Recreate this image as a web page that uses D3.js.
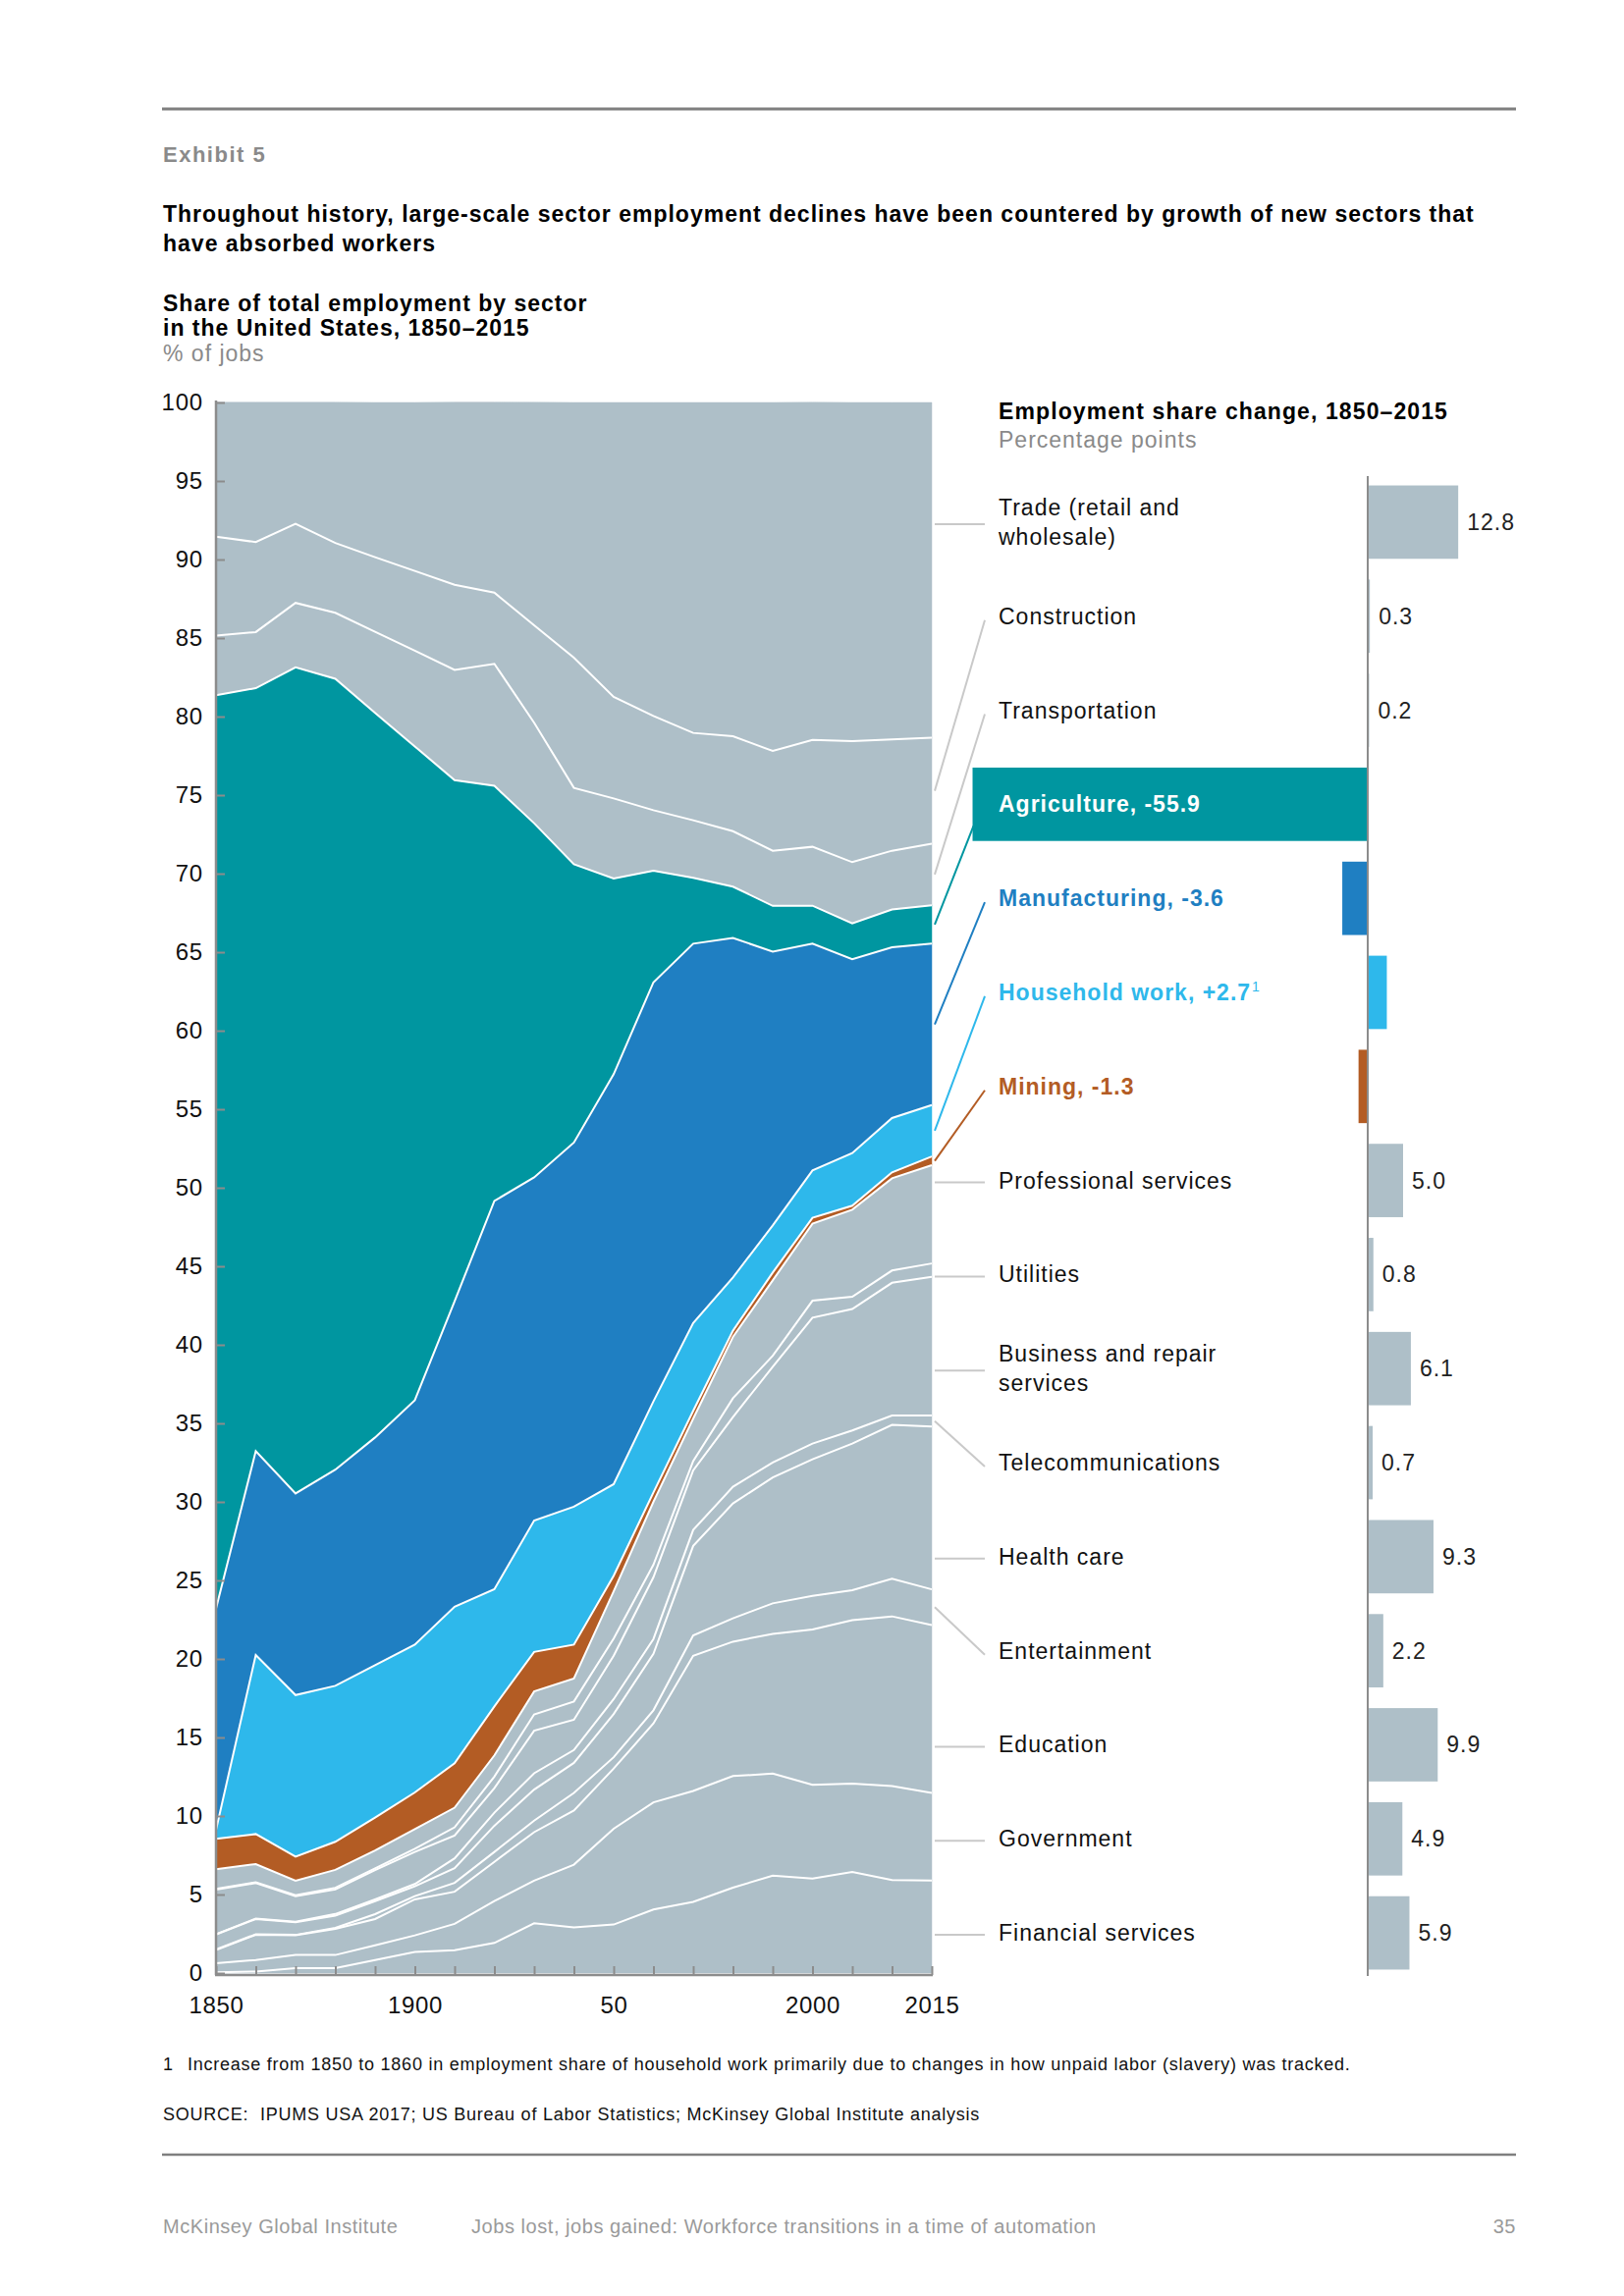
<!DOCTYPE html>
<html><head><meta charset="utf-8">
<script src="https://cdn.jsdelivr.net/npm/d3@7"></script>
<style>
body{margin:0;background:#fff;}
svg{display:block;font-family:"Liberation Sans",Arial,Helvetica,sans-serif;}
</style></head><body>
<svg id="chart" width="1654" height="2339"></svg>
<script>
// ---------- DATA ----------
const years = [1850,1860,1870,1880,1890,1900,1910,1920,1930,1940,1950,1960,1970,1980,1990,2000,2005,2010,2015];
const yearTickLabels = {1850:"1850",1900:"1900",1950:"50",2000:"2000",2015:"2015"};
const yTicks = [0,5,10,15,20,25,30,35,40,45,50,55,60,65,70,75,80,85,90,95,100];

// share of total employment (% of jobs), bottom of stack first
const financial     = [0.05,0.10,0.31,0.31,0.83,1.35,1.46,1.92,3.17,2.90,3.09,4.05,4.53,5.44,6.20,6.02,6.44,5.92,5.89];
const government    = [0.58,0.73,0.84,0.84,0.94,1.05,1.67,2.66,2.71,4.00,6.10,6.82,7.06,7.10,6.50,5.97,5.62,5.98,5.58];
const education     = [0.83,1.61,1.25,1.66,1.67,2.29,2.05,2.50,3.09,3.45,3.83,5.02,8.61,8.56,8.90,9.89,10.41,10.81,10.69];
const entertainment = [0.05,0.03,0.03,0.07,0.31,0.21,0.56,0.63,0.73,1.12,0.72,0.84,1.30,1.49,1.94,2.13,1.91,2.39,2.27];
const healthCare    = [0.94,0.97,0.80,0.78,0.83,0.62,0.94,1.67,1.98,1.91,2.75,3.59,5.70,7.31,8.02,8.70,9.33,9.80,10.36];
const telecom       = [0.03,0.03,0.03,0.10,0.11,0.15,0.62,0.83,1.04,0.82,0.95,0.95,1.01,1.06,0.95,1.00,0.84,0.60,0.71];
const business      = [2.83,2.26,1.64,1.56,1.87,2.04,1.46,1.57,2.71,1.93,2.76,3.93,3.79,4.44,6.09,8.02,7.73,8.45,8.83];
const utilities     = [0.05,0.05,0.05,0.11,0.11,0.21,0.52,0.73,1.04,1.16,1.10,0.80,0.60,1.20,0.70,1.08,0.78,0.78,0.85];
const professional  = [1.25,1.16,0.93,1.14,1.14,1.25,1.25,1.35,1.46,1.47,3.00,4.00,2.70,3.90,4.80,4.90,5.54,5.87,6.26];
const mining        = [1.94,1.91,1.53,1.79,2.09,2.33,2.83,3.12,2.52,2.15,1.00,0.60,0.50,0.40,0.50,0.38,0.26,0.38,0.55];
const household     = [0.56,11.40,10.29,9.93,9.70,9.41,9.96,7.46,8.36,8.78,5.83,5.80,5.58,3.39,3.00,3.01,3.35,3.46,3.28];
const manufacturing = [14.09,12.98,12.84,13.76,14.50,15.56,19.46,24.72,21.85,23.19,26.10,26.68,24.16,21.61,17.44,14.45,12.34,10.87,10.27];
const agriculture   = [58.16,48.58,52.60,50.36,46.14,41.63,33.17,26.43,22.55,17.72,12.46,7.10,4.19,3.27,2.91,2.41,2.28,2.41,2.45];
const transportation= [3.80,3.57,4.10,4.20,5.16,6.09,7.02,7.77,6.40,4.86,5.10,3.86,3.67,3.53,3.51,3.75,3.90,3.74,3.91];
const construction  = [6.30,5.73,5.04,4.44,4.75,5.08,5.42,4.53,6.20,8.29,6.46,6.00,5.56,6.05,6.35,6.80,7.71,7.08,6.75];
const trade         = [8.55,8.90,7.73,8.96,9.85,10.73,11.63,12.13,14.20,16.25,18.75,19.96,21.04,21.25,22.19,21.50,21.56,21.46,21.35];

const stackKeys = ["financial","government","education","entertainment","healthCare","telecom","business","utilities","professional","mining","household","manufacturing","agriculture","transportation","construction","trade"];
const seriesByKey = {financial,government,education,entertainment,healthCare,telecom,business,utilities,professional,mining,household,manufacturing,agriculture,transportation,construction,trade};

// right panel, top to bottom
const panelKeys   = ["trade","construction","transportation","agriculture","manufacturing","household","mining","professional","utilities","business","telecom","healthCare","entertainment","education","government","financial"];
const panelLabels = [["Trade (retail and","wholesale)"],["Construction"],["Transportation"],["Agriculture, -55.9"],["Manufacturing, -3.6"],["Household work, +2.7"],["Mining, -1.3"],["Professional services"],["Utilities"],["Business and repair","services"],["Telecommunications"],["Health care"],["Entertainment"],["Education"],["Government"],["Financial services"]];
const shareChange = [12.8,0.3,0.2,-55.9,-3.6,2.7,-1.3,5.0,0.8,6.1,0.7,9.3,2.2,9.9,4.9,5.9];

// ---------- STYLE ----------
const GRAY = "#aebfc8";
const colorOf = {agriculture:"#0096a0", manufacturing:"#1f7fc2", household:"#2eb8eb", mining:"#b35c24"};
const fill = k => colorOf[k] || GRAY;

const svg = d3.select("#chart");
function txt(x, y, size, opts) {
  const t = svg.append("text").attr("x", x).attr("y", y).attr("font-size", size)
    .attr("letter-spacing", (opts && opts.ls) != null ? opts.ls : 1)
    .attr("fill", (opts && opts.fill) || "#111");
  if (opts && opts.bold) t.attr("font-weight", "bold");
  if (opts && opts.anchor) t.attr("text-anchor", opts.anchor);
  return t;
}

// rules and header text
svg.append("line").attr("x1",165).attr("x2",1544).attr("y1",111).attr("y2",111).attr("stroke","#7f7f7f").attr("stroke-width",3);
txt(166,165,22,{bold:true,fill:"#8a8a8a",ls:1.5}).text("Exhibit 5");
txt(166,226,23,{bold:true,fill:"#000",ls:1}).text("Throughout history, large-scale sector employment declines have been countered by growth of new sectors that");
txt(166,256,23,{bold:true,fill:"#000",ls:1}).text("have absorbed workers");
txt(166,317,23,{bold:true,fill:"#000",ls:1}).text("Share of total employment by sector");
txt(166,342,23,{bold:true,fill:"#000",ls:1}).text("in the United States, 1850–2015");
txt(166,368,23,{fill:"#8a8a8a",ls:1}).text("% of jobs");

// ---------- STACKED AREA ----------
const rows = years.map((y,i) => { const r = {year:y}; stackKeys.forEach(k => r[k] = seriesByKey[k][i]); return r; });
const stacked = d3.stack().keys(stackKeys)(rows);

const x = d3.scalePoint().domain(years).range([220, 949]);
const y = d3.scaleLinear().domain([0,100]).range([2010, 410]);

const area = d3.area().x(d => x(d.data.year)).y0(d => y(d[0])).y1(d => y(d[1]));
const topLine = d3.line().x(d => x(d.data.year)).y(d => y(d[1]));

const gA = svg.append("g");
gA.selectAll("path.area").data(stacked).join("path").attr("class","area")
  .attr("d", area).attr("fill", s => fill(s.key)).attr("stroke", s => fill(s.key)).attr("stroke-width",0.5);
gA.selectAll("path.sep").data(stacked.slice(0,-1)).join("path").attr("class","sep")
  .attr("d", topLine).attr("fill","none").attr("stroke","#fff").attr("stroke-width",2);

// axes
const yAxis = d3.axisLeft(y).tickValues(yTicks).tickSizeInner(-9).tickSizeOuter(0).tickPadding(13);
const gy = svg.append("g").attr("transform","translate(220,0)").call(yAxis);
gy.select(".domain").attr("stroke","#8c8c8c").attr("stroke-width",2.5).attr("d","M0,408V2012");
gy.selectAll(".tick line").attr("stroke","#8c8c8c").attr("stroke-width",2);
gy.selectAll(".tick text").attr("font-size",24).attr("letter-spacing",0.8).attr("fill","#111").attr("font-family","Liberation Sans, Arial, sans-serif");

const xAxis = d3.axisBottom(x).tickSizeInner(-9).tickSizeOuter(0).tickPadding(22).tickFormat(d => yearTickLabels[d] || "");
const gx = svg.append("g").attr("transform","translate(0,2012)").call(xAxis);
gx.select(".domain").attr("stroke","#8c8c8c").attr("stroke-width",2.5).attr("d","M219,0H950");
gx.selectAll(".tick line").attr("stroke","#8c8c8c").attr("stroke-width",2);
gx.selectAll(".tick text").attr("font-size",24).attr("letter-spacing",0.6).attr("fill","#111").attr("font-family","Liberation Sans, Arial, sans-serif");

// ---------- RIGHT PANEL ----------
txt(1017,427,23,{bold:true,fill:"#000",ls:1.1}).text("Employment share change, 1850–2015");
txt(1017,456,23,{fill:"#8a8a8a",ls:1}).text("Percentage points");

const band = d3.scaleBand().domain(panelKeys).range([484, 2017]).paddingInner(0.22).paddingOuter(0.11);
const bx = d3.scaleLinear().domain([0, 10]).range([1393, 1465]);

const gB = svg.append("g");
gB.selectAll("rect").data(panelKeys).join("rect")
  .attr("x", (k,i) => Math.min(bx(0), bx(shareChange[i])))
  .attr("width", (k,i) => Math.abs(bx(shareChange[i]) - bx(0)))
  .attr("y", k => band(k)).attr("height", band.bandwidth())
  .attr("fill", k => fill(k));
svg.append("line").attr("x1",1393).attr("x2",1393).attr("y1",485).attr("y2",2013).attr("stroke","#8c8c8c").attr("stroke-width",2);

// value labels for gray sectors
panelKeys.forEach((k,i) => {
  if (colorOf[k]) return;
  txt(bx(shareChange[i]) + 9, band(k) + band.bandwidth()/2 + 8, 23, {fill:"#222", ls:1}).text(d3.format(".1f")(shareChange[i]));
});

// sector labels
panelKeys.forEach((k,i) => {
  const cy = band(k) + band.bandwidth()/2;
  const lines = panelLabels[i];
  if (colorOf[k]) {
    const t = txt(1017, cy + 8, 23, {bold:true, fill: k === "agriculture" ? "#fff" : colorOf[k], ls:1}).text(lines[0]);
    if (k === "household") t.append("tspan").attr("font-size",14).attr("font-weight","normal").attr("dy",-9).attr("dx",1).text("1");
  } else if (lines.length === 2) {
    const t = txt(1017, cy - 7, 23, {ls:1});
    t.append("tspan").attr("x",1017).attr("y",cy - 7).text(lines[0]);
    t.append("tspan").attr("x",1017).attr("y",cy + 23).text(lines[1]);
  } else {
    txt(1017, cy + 8, 23, {ls:1}).text(lines[0]);
  }
});

// leader lines
const last = years.length - 1;
panelKeys.forEach((k,i) => {
  const s = stacked.find(d => d.key === k)[last];
  const top = y(s[1]), bot = y(s[0]);
  const cy = band(k) + band.bandwidth()/2;
  const inside = cy >= top && cy <= bot;
  const sy = inside ? cy + 2 : (top + bot)/2;
  const barLeft = Math.min(bx(0), bx(shareChange[i]));
  const ex = Math.min(1003, barLeft + 1);
  const ey = barLeft < 1003 ? cy + 22 : (inside ? cy + 2 : cy + 4);
  svg.append("line").attr("x1",952).attr("y1",sy).attr("x2",ex).attr("y2",ey)
    .attr("stroke", colorOf[k] || "#c9c9c9").attr("stroke-width",2);
});

// ---------- FOOTER ----------
txt(166,2109,18,{ls:0.75}).text("1");
txt(191,2109,18,{ls:0.75}).text("Increase from 1850 to 1860 in employment share of household work primarily due to changes in how unpaid labor (slavery) was tracked.");
txt(166,2160,18,{ls:0.75}).text("SOURCE:");
txt(265,2160,18,{ls:0.75}).text("IPUMS USA 2017; US Bureau of Labor Statistics; McKinsey Global Institute analysis");
svg.append("line").attr("x1",165).attr("x2",1544).attr("y1",2195).attr("y2",2195).attr("stroke","#7f7f7f").attr("stroke-width",2.5);
txt(166,2275,20,{fill:"#9a9a9a",ls:0.55}).text("McKinsey Global Institute");
txt(480,2275,20,{fill:"#9a9a9a",ls:0.55}).text("Jobs lost, jobs gained: Workforce transitions in a time of automation");
txt(1544,2275,20,{fill:"#9a9a9a",ls:0.55,anchor:"end"}).text("35");
</script>
</body></html>
